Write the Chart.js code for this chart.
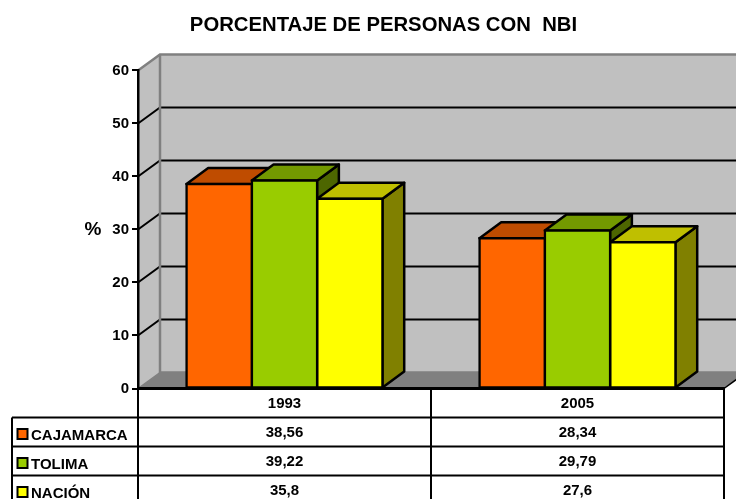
<!DOCTYPE html>
<html>
<head>
<meta charset="utf-8">
<style>html,body{margin:0;padding:0;background:#fff;overflow:hidden}canvas{display:block}</style>
<script src="https://cdn.jsdelivr.net/npm/chart.js@4"></script>
</head>
<body>
<canvas id="c" width="736" height="499"></canvas>
<script>
const categories = ['1993', '2005'];
const seriesNames = ['CAJAMARCA', 'TOLIMA', 'NACIÓN'];
const cajamarca = [38.56, 28.34];
const tolima = [39.22, 29.79];
const nacion = [35.8, 27.6];
const yTicks = [0, 10, 20, 30, 40, 50, 60];
const titleText = 'PORCENTAJE DE PERSONAS CON  NBI';
const axisLabel = '%';

const frontColors = ['#FF6600', '#99CC00', '#FFFF00'];
const topColors = ['#BF4C00', '#739900', '#BFBF00'];
const sideColors = ['#803300', '#4D6600', '#808000'];
const DX = 22, DY = -16, BAR_DX = 21.7;
const FONT = '"Liberation Sans", Arial, sans-serif';

const threeD = {
  id: 'threeD',
  beforeDraw(chart) {
    const c = chart.ctx, a = chart.chartArea, y = chart.scales.y;
    c.save();
    c.fillStyle = '#C0C0C0';
    c.beginPath();
    c.moveTo(a.left, a.bottom); c.lineTo(a.left, a.top);
    c.lineTo(a.left + DX, a.top + DY); c.lineTo(a.right + DX, a.top + DY);
    c.lineTo(a.right + DX, a.bottom + DY); c.lineTo(a.left + DX, a.bottom + DY);
    c.closePath(); c.fill();
    c.fillStyle = '#808080';
    c.beginPath();
    c.moveTo(a.left, a.bottom); c.lineTo(a.right, a.bottom);
    c.lineTo(a.right + DX, a.bottom + DY); c.lineTo(a.left + DX, a.bottom + DY);
    c.closePath(); c.fill();
    c.strokeStyle = '#000'; c.lineWidth = 2;
    yTicks.slice(1, -1).forEach(v => {
      const p = y.getPixelForValue(v);
      c.beginPath();
      c.moveTo(a.left, p); c.lineTo(a.left + DX, p + DY); c.lineTo(a.right + DX, p + DY);
      c.stroke();
    });
    c.strokeStyle = '#808080'; c.lineWidth = 2.5;
    c.beginPath();
    c.moveTo(a.left, a.top); c.lineTo(a.left + DX, a.top + DY); c.lineTo(a.right + DX, a.top + DY);
    c.moveTo(a.left + DX, a.top + DY); c.lineTo(a.left + DX, a.bottom + DY);
    c.lineTo(a.right + DX, a.bottom + DY);
    c.stroke();
    c.lineWidth = 1.5;
    c.beginPath();
    c.moveTo(a.left + DX, a.bottom + DY); c.lineTo(a.left, a.bottom);
    c.stroke();
    c.strokeStyle = '#000';
    c.beginPath();
    c.moveTo(a.right + DX, a.bottom + DY); c.lineTo(a.right, a.bottom);
    c.stroke();
    c.restore();
  },
  beforeDatasetsDraw(chart) {
    const c = chart.ctx;
    c.save();
    c.strokeStyle = '#000'; c.lineWidth = 2.5; c.lineJoin = 'round';
    categories.forEach((_, i) => {
      seriesNames.forEach((_, s) => {
        const b = chart.getDatasetMeta(s).data[i].getProps(['x', 'y', 'width', 'base'], true);
        const l = b.x - b.width / 2, r = b.x + b.width / 2;
        c.fillStyle = sideColors[s];
        c.beginPath();
        c.moveTo(r, b.y); c.lineTo(r + BAR_DX, b.y + DY); c.lineTo(r + BAR_DX, b.base + DY); c.lineTo(r, b.base);
        c.closePath(); c.fill(); c.stroke();
        c.fillStyle = topColors[s];
        c.beginPath();
        c.moveTo(l, b.y); c.lineTo(l + BAR_DX, b.y + DY); c.lineTo(r + BAR_DX, b.y + DY); c.lineTo(r, b.y);
        c.closePath(); c.fill(); c.stroke();
      });
    });
    c.restore();
  },
  afterDraw(chart) {
    const c = chart.ctx, a = chart.chartArea, x = chart.scales.x, y = chart.scales.y;
    const H = chart.height, rowH = 29, tableLeft = 12;
    const rowTop = a.bottom + rowH;
    c.save();
    c.strokeStyle = '#000'; c.lineWidth = 2;
    c.beginPath();
    [0, 1, 2].forEach(r => {
      const ly = rowTop + r * rowH;
      c.moveTo(tableLeft, ly); c.lineTo(a.right, ly);
    });
    c.moveTo(tableLeft, rowTop); c.lineTo(tableLeft, H);
    const mid = (x.getPixelForValue(0) + x.getPixelForValue(1)) / 2;
    [a.left, mid, a.right].forEach(px => { c.moveTo(px, a.bottom); c.lineTo(px, H); });
    c.stroke();

    c.font = 'bold 15px ' + FONT;
    c.fillStyle = '#000'; c.textBaseline = 'middle';
    const vals = [cajamarca, tolima, nacion];
    seriesNames.forEach((n, s) => {
      const cy = rowTop + s * rowH + rowH / 2;
      c.fillStyle = frontColors[s];
      c.fillRect(17.5, cy - 3, 10, 10);
      c.strokeRect(17.5, cy - 3, 10, 10);
      c.fillStyle = '#000';
      c.textAlign = 'left';
      c.fillText(n, 31, cy + 3.5);
      c.textAlign = 'center';
      vals[s].forEach((v, i) => c.fillText(String(v).replace('.', ','), x.getPixelForValue(i), cy + 0.5));
    });
    c.font = 'bold 19px ' + FONT;
    c.textAlign = 'center';
    c.fillText(axisLabel, 93, y.getPixelForValue(30));
    c.restore();
  }
};

new Chart(document.getElementById('c'), {
  type: 'bar',
  plugins: [threeD],
  data: {
    labels: categories,
    datasets: [cajamarca, tolima, nacion].map((d, s) => ({
      label: seriesNames[s],
      data: d,
      backgroundColor: frontColors[s],
      borderColor: '#000',
      borderWidth: 2.5,
      borderSkipped: false,
      inflateAmount: 1.25,
      categoryPercentage: 0.669,
      barPercentage: 1
    }))
  },
  options: {
    responsive: false,
    animation: false,
    layout: { padding: { left: 31, right: 0, top: 0, bottom: 0 } },
    plugins: {
      legend: { display: false },
      tooltip: { enabled: false },
      title: {
        display: true,
        text: titleText,
        color: '#000',
        font: { family: FONT, size: 20.3, weight: 'bold' },
        padding: { top: 13, bottom: 33.1 }
      }
    },
    scales: {
      x: {
        grid: { display: false },
        border: { color: '#000', width: 3 },
        ticks: { color: '#000', padding: -2, font: { family: FONT, size: 15, weight: 'bold' }, maxRotation: 0 },
        afterFit(s) { s.height = 110.5; }
      },
      y: {
        min: 0, max: 60,
        grid: { drawOnChartArea: false, drawTicks: true, tickLength: 6, color: '#000', lineWidth: 2 },
        border: { color: '#000', width: 2.5 },
        ticks: { stepSize: 10, color: '#000', padding: 3, font: { family: FONT, size: 15, weight: 'bold' } },
        afterFit(s) { s.width = 107; }
      },
      y2: {
        type: 'linear', position: 'right', display: true,
        grid: { display: false }, border: { display: false }, ticks: { display: false },
        afterFit(s) { s.width = 12; }
      }
    }
  }
});
</script>
</body>
</html>
